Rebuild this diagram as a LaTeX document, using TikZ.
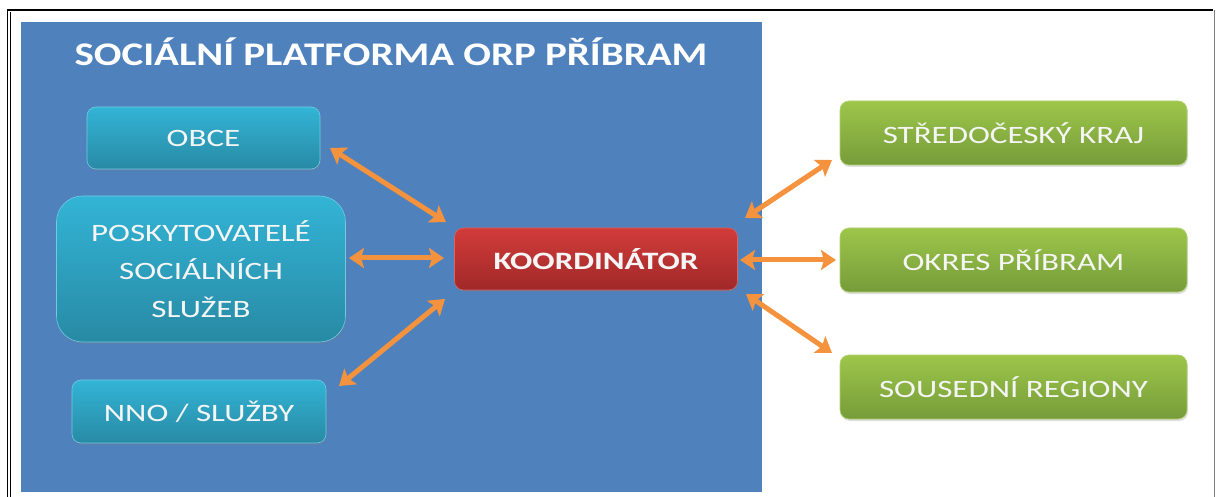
\documentclass[tikz,border=0pt]{standalone}
\usepackage{fontspec}
\setmainfont[FakeStretch=1.32]{Carlito}
\newfontfamily\titlefont[FakeStretch=1.24]{Carlito}
\usetikzlibrary{arrows.meta,shadows}
\definecolor{panelblue}{RGB}{79,129,189}
\definecolor{tealtop}{RGB}{51,180,214}
\definecolor{tealbot}{RGB}{40,138,164}
\definecolor{redtop}{RGB}{210,60,58}
\definecolor{redbot}{RGB}{160,40,40}
\definecolor{greentop}{RGB}{157,198,74}
\definecolor{greenbot}{RGB}{118,156,58}
\definecolor{arrorange}{RGB}{244,146,62}
\tikzset{
  box/.style={rounded corners=9pt, text=white!96!black, align=center, inner sep=0pt,
    font=\fontsize{25}{38}\selectfont, drop shadow={shadow xshift=1pt, shadow yshift=-2pt, opacity=0.25}},
  tealbox/.style={box, top color=tealtop, bottom color=tealbot, draw=tealtop!70!white, line width=0.6pt},
  greenbox/.style={box, top color=greentop, bottom color=greenbot, draw=greentop!80!white, line width=0.6pt},
  redbox/.style={box, top color=redtop, bottom color=redbot, draw=redtop!80!white, line width=0.6pt, font=\fontsize{25}{30}\selectfont\bfseries},
  biarrow/.style={draw=arrorange, line width=5pt, {Stealth[length=15pt,width=20pt,inset=3pt]}-{Stealth[length=15pt,width=20pt,inset=3pt]}},
}
\begin{document}
\begin{tikzpicture}[x=1pt,y=-1pt]
\useasboundingbox (0,0) rectangle (1216,497);
\fill[white] (0,0) rectangle (1216,497);
% outer frame
\draw[black, line width=1.2pt] (7.5,497) -- (7.5,10) -- (1213,10);
\draw[black, line width=0.8pt] (10.5,497) -- (10.5,12.5);
\draw[gray, line width=0.8pt] (1214.5,10) -- (1214.5,497);
% blue panel
\fill[panelblue] (21,22) rectangle (762,492);
\node[text=white, font=\titlefont\fontsize{33}{38}\selectfont\bfseries] (title) at (391,52) {SOCIÁLNÍ PLATFORMA ORP PŘÍBRAM};
% left boxes
\node[tealbox, minimum width=233pt, minimum height=62pt] (obce) at (203.5,138) {OBCE};
\node[tealbox, rounded corners=26pt, minimum width=289pt, minimum height=146pt] (posk) at (201,269) {POSKYTOVATELÉ\\SOCIÁLNÍCH\\SLUŽEB};
\node[tealbox, minimum width=254pt, minimum height=63pt] (nno) at (199,411.5) {NNO / SLUŽBY};
% coordinator
\node[redbox, minimum width=283pt, minimum height=62pt] (koord) at (596,259) {KOORDINÁTOR};
% right boxes
\node[greenbox, minimum width=347pt, minimum height=64pt] (stred) at (1013.5,133) {STŘEDOČESKÝ KRAJ};
\node[greenbox, minimum width=347pt, minimum height=64pt] (okres) at (1013.5,260) {OKRES PŘÍBRAM};
\node[greenbox, minimum width=347pt, minimum height=64pt] (sous) at (1013.5,387) {SOUSEDNÍ REGIONY};
% arrow end points
\coordinate (a1s) at (330,148);  \coordinate (a1e) at (446,222);
\coordinate (a2s) at (349,258);  \coordinate (a2e) at (444,258);
\coordinate (a3s) at (339,386);  \coordinate (a3e) at (445,299);
\coordinate (b1s) at (745,218);  \coordinate (b1e) at (832,160);
\coordinate (b2s) at (740,260);  \coordinate (b2e) at (836,260);
\coordinate (b3s) at (746,294);  \coordinate (b3e) at (832,353);
\draw[biarrow] (a1s) -- (a1e);
\draw[biarrow] (a2s) -- (a2e);
\draw[biarrow] (a3s) -- (a3e);
\draw[biarrow] (b1s) -- (b1e);
\draw[biarrow] (b2s) -- (b2e);
\draw[biarrow] (b3s) -- (b3e);
\end{tikzpicture}
\end{document}
